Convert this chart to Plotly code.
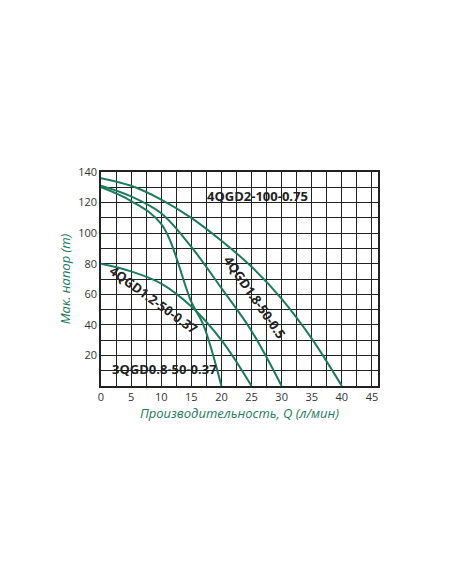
import plotly.graph_objects as go

q_075 = [0, 5, 10, 15, 20, 25, 30, 35, 40]
h_075 = [136, 131, 122, 110, 95, 78, 57, 31, 0]
q_05 = [0, 5, 10, 15, 20, 25, 30]
h_05 = [131, 124, 113, 91, 64, 36, 0]
q_037a = [0, 5, 10, 15, 17, 20]
h_037a = [130, 121, 106, 55, 40, 0]
q_037b = [0, 5, 10, 15, 20, 25]
h_037b = [80, 75, 67, 52, 30, 0]

green = '#1d7a5c'
fig = go.Figure()
for q, h in [(q_075, h_075), (q_05, h_05), (q_037a, h_037a), (q_037b, h_037b)]:
    fig.add_trace(go.Scatter(x=q, y=h, mode='lines', line=dict(color=green, width=2, shape='spline'),
                             showlegend=False))

labels = [('4QGD2-100-0.75', 26, 124, 0), ('4QGD1.8-50-0.5', 25.5, 58, 55),
          ('4QGD1.2-50-0.37', 8.8, 56, 36), ('3QGD0.8-50-0.37', 10.5, 11, 0)]
for t, x, y, a in labels:
    fig.add_annotation(x=x, y=y, text='<b>' + t + '</b>', showarrow=False, textangle=a,
                       font=dict(size=13, color='#222'))

fig.update_layout(
    width=452, height=584, plot_bgcolor='white', paper_bgcolor='white',
    margin=dict(l=93, r=82, t=164, b=206),
    font=dict(family='Open Sans', size=11, color='#333'),
    xaxis=dict(range=[0, 46], tickvals=list(range(0, 50, 5)), showgrid=True,
               gridcolor='#222', gridwidth=1,
               minor=dict(dtick=2.5, showgrid=True, gridcolor='#222'),
               showline=True, linecolor='#222', linewidth=1.5, mirror=True, zeroline=False,
               title=dict(text='<i>Производительность, Q (л/мин)</i>', font=dict(color=green, size=13),
                          standoff=2)),
    yaxis=dict(range=[0, 140], tickvals=list(range(20, 150, 20)), showgrid=True,
               gridcolor='#222', minor=dict(dtick=10, showgrid=True, gridcolor='#222'),
               showline=True, linecolor='#222', linewidth=1.5, mirror=True, zeroline=False,
               title=dict(text='<i>Мак. напор (m)</i>', font=dict(color=green, size=13), standoff=5)),
)
fig.write_html("out.html")
